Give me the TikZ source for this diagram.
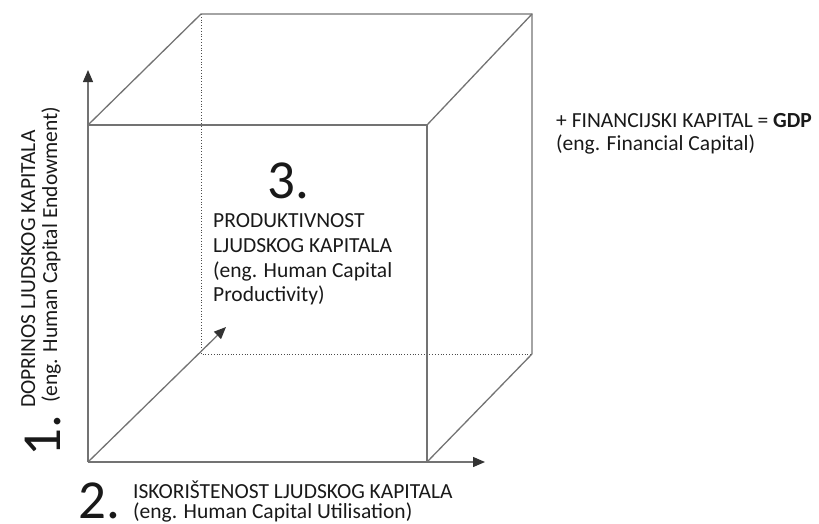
\documentclass[tikz,border=0pt]{standalone}
\usepackage{fontspec}
\setmainfont{Carlito}
\usetikzlibrary{arrows.meta}

\begin{document}
\begin{tikzpicture}[x=1pt,y=-1pt,
    edge/.style={draw=black!55,line width=1.3pt},
    hidden/.style={draw=black!70,line width=0.8pt,dotted},
    axis/.style={edge,-{Triangle[length=12pt,width=10pt,color=black!80]}},
    txt/.style={inner sep=0pt,anchor=base west,text=black!90,font=\fontsize{21.5}{24}\selectfont},
    num/.style={inner sep=0pt,anchor=base west,text=black!90,font=\fontsize{55}{56}\selectfont}]
    \useasboundingbox (0,0) rectangle (819,523);
    % front face
    \coordinate (frontbl) at (88,462);
    \coordinate (frontbr) at (427,462);
    \coordinate (fronttr) at (427,125);
    \coordinate (fronttl) at (88,125);
    % back face
    \coordinate (backbl) at (201,354);
    \coordinate (backbr) at (532,354);
    \coordinate (backtr) at (532,14);
    \coordinate (backtl) at (201,14);
    % axis ends
    \coordinate (yend) at (88,70);
    \coordinate (xend) at (485,462);
    \coordinate (zend) at (226,327);

    \draw[hidden] (backtl) -- (backbl) -- (backbr);
    \draw[edge] (fronttl) -- (fronttr) -- (frontbr);
    \draw[edge] (fronttl) -- (backtl) -- (backtr) -- (backbr);
    \draw[edge] (fronttr) -- (backtr);
    \draw[edge] (frontbr) -- (backbr);
    \draw[axis] (frontbl) -- (yend);
    \draw[axis] (frontbl) -- (xend);
    \draw[axis] (frontbl) -- (zend);

    % 1.
    \node[num,rotate=90] (onenum) at (60,457) {1.};
    \node[txt,rotate=90] (onetitle) at (35,408) {DOPRINOS LJUDSKOG KAPITALA};
    \node[txt,rotate=90] (oneeng) at (57,403) {(eng. Human Capital Endowment)};
    % 2.
    \node[num] (twonum) at (78,518) {2.};
    \node[txt] (twotitle) at (133,498) {ISKORIŠTENOST LJUDSKOG KAPITALA};
    \node[txt] (twoeng) at (133,518) {(eng. Human Capital Utilisation)};
    % 3.
    \node[num] (threenum) at (267,198) {3.};
    \node[txt] (threea) at (213,227) {PRODUKTIVNOST};
    \node[txt] (threeb) at (213,252) {LJUDSKOG KAPITALA};
    \node[txt] (threec) at (213,277) {(eng. Human Capital};
    \node[txt] (threed) at (213,301) {Productivity)};
    % financial capital
    \node[txt] (fina) at (556,127) {+ FINANCIJSKI KAPITAL = \textbf{GDP}};
    \node[txt] (finb) at (556,150) {(eng. Financial Capital)};
\end{tikzpicture}
\end{document}
